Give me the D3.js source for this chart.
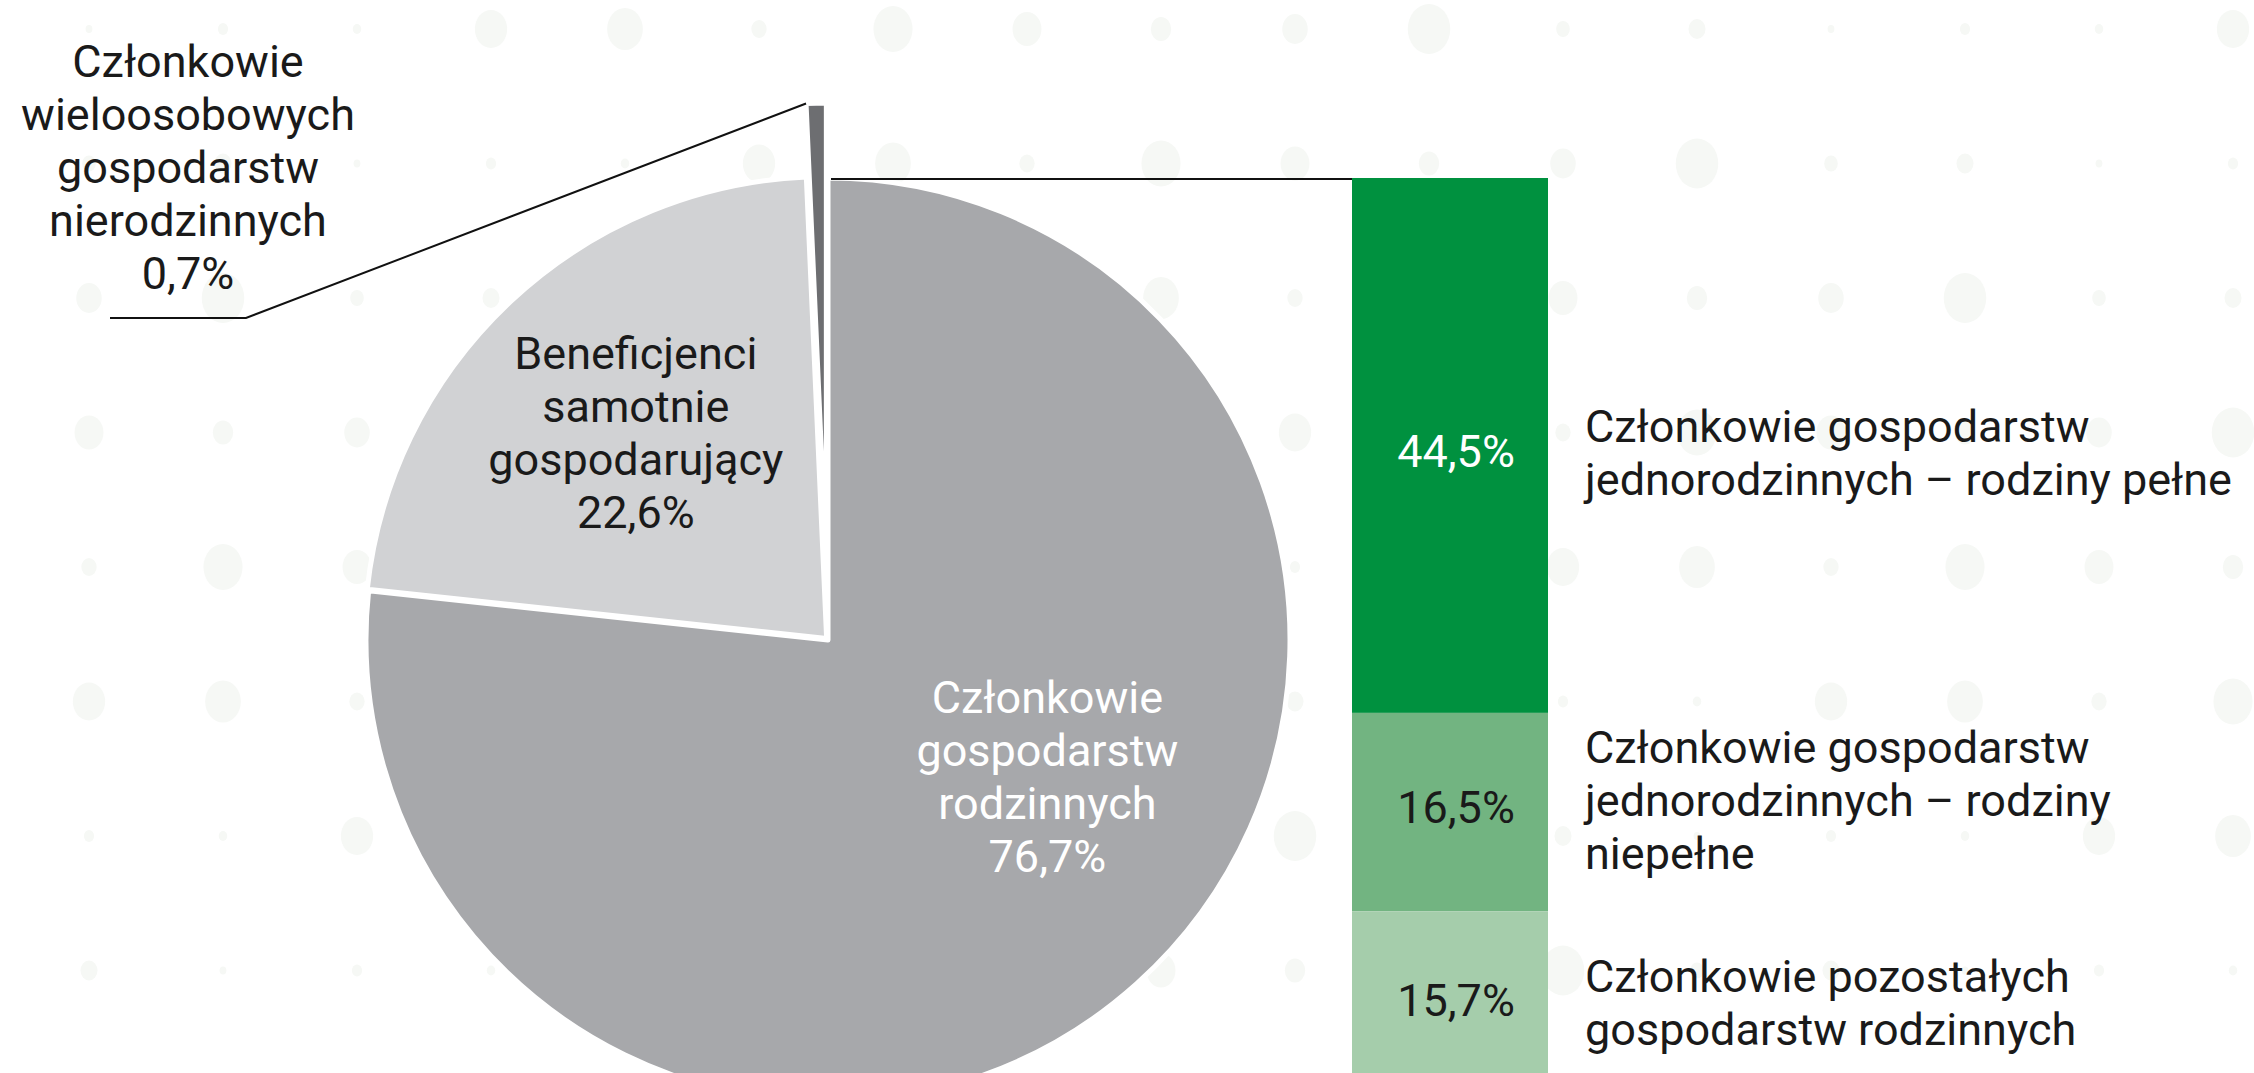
<!DOCTYPE html>
<html lang="pl">
<head>
<meta charset="UTF-8">
<title>Struktura beneficjentów</title>
<style>
    body { margin: 0; background: #fff; }
    svg { display: block; }
    text { font-family: Roboto, "Open Sans", sans-serif; font-size: 45px; fill: #1a1a1a; }
</style>
</head>
<body>
<svg id="chart" width="2254" height="1073"></svg>
<script src="https://d3js.org/d3.v7.min.js"></script>
<script>
// pie: share of beneficiaries by household type (%)
const pieNames = [
    ["Członkowie", "gospodarstw", "rodzinnych"],
    ["Beneficjenci", "samotnie", "gospodarujący"],
    ["Członkowie", "wieloosobowych", "gospodarstw", "nierodzinnych"]
];
const pieValues = [76.7, 22.6, 0.7];
const pieLabels = ["76,7%", "22,6%", "0,7%"];
const pieColors = ["#a7a8ab", "#d1d2d4", "#6d6e71"];

// bar: breakdown of the family households slice (%)
const barNames = [
    ["Członkowie gospodarstw", "jednorodzinnych – rodziny pełne"],
    ["Członkowie gospodarstw", "jednorodzinnych – rodziny", "niepełne"],
    ["Członkowie pozostałych", "gospodarstw rodzinnych"]
];
const barValues = [44.5, 16.5, 15.7];
const barLabels = ["44,5%", "16,5%", "15,7%"];
const barColors = ["#00913f", "#72b481", "#a5cdab"];

const svg = d3.select("#chart");
const W = 2254, H = 1073;
const lh = 53;

// faint dotted background
const dotSizes = [4, 12, 19, 8, 23, 6, 15, 21, 10, 17, 5, 25, 9];
const bg = svg.append("g");
for (let j = 0; j < 8; j++) {
    for (let i = 0; i < 17; i++) {
        bg.append("ellipse")
            .attr("cx", 89 + 134 * i)
            .attr("cy", 29 + 134.5 * j)
            .attr("rx", dotSizes[(i * 5 + j * 3) % dotSizes.length] * 0.85)
            .attr("ry", dotSizes[(i * 5 + j * 3) % dotSizes.length])
            .attr("fill", "#f6f8f5");
    }
}

// ---- pie ----
const cx = 828, cy = 640, R = 462;
const explode = [0, 2, 75];
const pie = d3.pie().sort(null).startAngle(0).endAngle(2 * Math.PI)(pieValues);
const arc = d3.arc().innerRadius(0).outerRadius(R);
const mid = d => (d.startAngle + d.endAngle) / 2;
const shift = (d, i) => [Math.sin(mid(d)) * explode[i], -Math.cos(mid(d)) * explode[i]];

svg.append("g").selectAll("path")
    .data(pie)
    .join("path")
    .attr("transform", (d, i) => {
        const s = shift(d, i);
        return `translate(${cx + s[0]},${cy + s[1]})`;
    })
    .attr("d", arc)
    .attr("fill", (d, i) => pieColors[i])
    .attr("stroke", "#fff")
    .attr("stroke-width", 5)
    .attr("stroke-linejoin", "round");

// in-slice labels (angle in degrees clockwise from top, distance as share of R)
const pieLabelPos = [{ a: 122, k: 0.56, fill: "#fff" }, { a: 317, k: 0.61, fill: "#1a1a1a" }];
pieLabelPos.forEach((p, i) => {
    const lines = pieNames[i].concat([pieLabels[i]]);
    const a = p.a * Math.PI / 180;
    const x = cx + Math.sin(a) * R * p.k;
    const yc = cy - Math.cos(a) * R * p.k;
    const y0 = yc - (lines.length - 1) * lh / 2 + 15;
    const t = svg.append("text").attr("text-anchor", "middle").style("fill", p.fill);
    lines.forEach((s, k) => t.append("tspan").attr("x", x).attr("y", y0 + k * lh).text(s));
});

// callout for the tiny slice
const small = pie[2];
const ss = shift(small, 2);
const corner = [cx + ss[0] + Math.sin(small.startAngle) * R, cy + ss[1] - Math.cos(small.startAngle) * R];
svg.append("polyline")
    .attr("points", [[110, 318], [246, 318], corner].map(p => p.join(",")).join(" "))
    .attr("fill", "none")
    .attr("stroke", "#111")
    .attr("stroke-width", 2);

const smallLines = pieNames[2].concat([pieLabels[2]]);
const st = svg.append("text").attr("text-anchor", "middle");
smallLines.forEach((s, k) => st.append("tspan").attr("x", 188).attr("y", 77 + k * lh).text(s));

// ---- stacked bar ----
const barX = 1352, barW = 196;
const total = d3.sum(barValues);
const y = d3.scaleLinear().domain([0, total]).range([178, 178 + 12.02 * total]);
const stackEnds = d3.cumsum(barValues);
const segs = barValues.map((v, i) => ({ v, i, y0: stackEnds[i] - v, y1: stackEnds[i] }));

// connector from pie top to bar top
svg.append("line")
    .attr("x1", cx + 3).attr("y1", y(0) + 1)
    .attr("x2", barX).attr("y2", y(0) + 1)
    .attr("stroke", "#111").attr("stroke-width", 2);

svg.append("g").selectAll("rect")
    .data(segs)
    .join("rect")
    .attr("x", barX)
    .attr("width", barW)
    .attr("y", d => y(d.y0))
    .attr("height", d => y(d.y1) - y(d.y0))
    .attr("fill", d => barColors[d.i]);

const valueNudge = [7, -4, -5];
svg.append("g").selectAll("text")
    .data(segs)
    .join("text")
    .attr("text-anchor", "middle")
    .attr("x", barX + barW / 2 + 6)
    .attr("y", d => (y(d.y0) + y(d.y1)) / 2 + 15 + valueNudge[d.i])
    .style("fill", d => d.i === 0 ? "#fff" : "#1a1a1a")
    .text(d => barLabels[d.i]);

const nameNudge = [8, -11, -2];
segs.forEach(d => {
    const lines = barNames[d.i];
    const m = (y(d.y0) + y(d.y1)) / 2;
    const y0 = m - (lines.length - 1) * lh / 2 + 15 + nameNudge[d.i];
    const t = svg.append("text");
    lines.forEach((s, k) => t.append("tspan").attr("x", 1585).attr("y", y0 + k * lh).text(s));
});
</script>
</body>
</html>
